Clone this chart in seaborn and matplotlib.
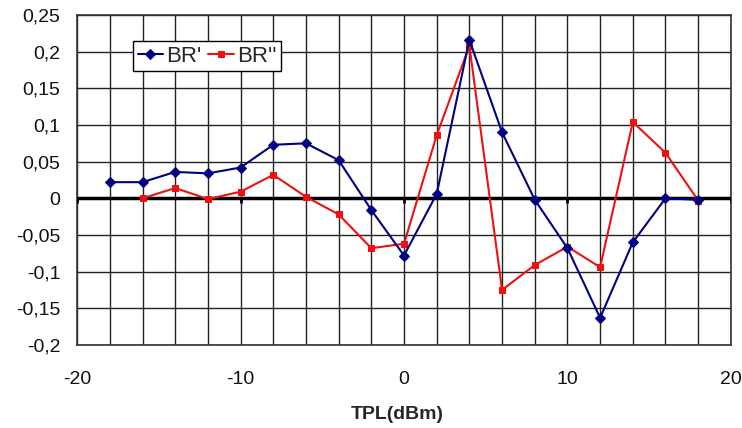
import matplotlib
matplotlib.use("Agg")
import matplotlib.pyplot as plt
import seaborn as sns
import pandas as pd
from matplotlib.ticker import FixedLocator, FuncFormatter

x_br1 = [-18, -16, -14, -12, -10, -8, -6, -4, -2, 0, 2, 4, 6, 8, 10, 12, 14, 16, 18]
br1 = [0.022, 0.022, 0.036, 0.034, 0.042, 0.073, 0.075, 0.052, -0.016, -0.078,
       0.006, 0.216, 0.090, -0.002, -0.068, -0.163, -0.060, 0.000, -0.002]
x_br2 = [-16, -14, -12, -10, -8, -6, -4, -2, 0, 2, 4, 6, 8, 10, 12, 14, 16, 18]
br2 = [0.000, 0.014, -0.001, 0.009, 0.032, 0.002, -0.022, -0.068, -0.062,
       0.086, 0.208, -0.125, -0.091, -0.066, -0.094, 0.104, 0.062, -0.003]
series_names = ["BR'", "BR''"]
x_ticks = [-20, -10, 0, 10, 20]
y_ticks = [-0.2, -0.15, -0.1, -0.05, 0, 0.05, 0.1, 0.15, 0.2, 0.25]
x_label = "TPL(dBm)"

sns.set_theme(style="white")
plt.rcParams['font.family'] = ['Liberation Sans', 'DejaVu Sans']

fig = plt.figure(figsize=(7.42, 4.28), dpi=100)
ax = fig.add_axes([0.104, 0.194, 0.881, 0.771])

df1 = pd.DataFrame({"x": x_br1, "y": br1})
df2 = pd.DataFrame({"x": x_br2, "y": br2})
sns.lineplot(data=df1, x="x", y="y", ax=ax, color="#000080", marker="D",
             markersize=5.5, markeredgecolor="#000080", linewidth=1.5,
             label=series_names[0], zorder=5)
sns.lineplot(data=df2, x="x", y="y", ax=ax, color="#ee1111", marker="s",
             markersize=5, markeredgecolor="#ee1111", linewidth=1.5,
             label=series_names[1], zorder=4)

ax.set_xlim(-20, 20)
ax.set_ylim(-0.2, 0.25)
ax.xaxis.set_major_locator(FixedLocator(x_ticks))
ax.xaxis.set_minor_locator(FixedLocator(list(range(-20, 21, 2))))
ax.yaxis.set_major_locator(FixedLocator(y_ticks))

def fmt(v, pos):
    if abs(v) < 1e-9:
        return "0"
    s = ("%.2f" % v).rstrip("0")
    return s.replace(".", ",")

ax.yaxis.set_major_formatter(FuncFormatter(fmt))
ax.xaxis.set_major_formatter(FuncFormatter(lambda v, p: "%d" % v))

ax.grid(True, which="both", axis="x", color="#222222", linewidth=1.0)
ax.grid(True, which="major", axis="y", color="#222222", linewidth=1.0)
ax.set_axisbelow(True)
ax.tick_params(axis="both", which="both", length=0, labelsize=14, colors="#111111")
ax.tick_params(axis="x", pad=19)
ax.tick_params(axis="y", pad=12)

ax.axhline(0, color="black", linewidth=2.5, zorder=3)
ax.vlines(x_ticks, -0.006, 0, color="black", linewidth=2.0, zorder=3)

for sp in ax.spines.values():
    sp.set_color("#333333")
    sp.set_linewidth(1.2)

ax.set_xlabel(x_label, fontsize=14, fontweight="bold", labelpad=10)
ax.xaxis.set_label_coords(0.49, -0.185)
ax.set_ylabel("")

leg = ax.legend(loc="upper left", bbox_to_anchor=(0.0855, 0.92), ncol=2,
                fontsize=16, frameon=True, fancybox=False, handlelength=1.15,
                handletextpad=0.15, columnspacing=0.3, borderpad=0.2,
                borderaxespad=0)
leg.get_frame().set_edgecolor("black")
leg.get_frame().set_linewidth(1.0)
leg.get_frame().set_facecolor("white")
leg.get_frame().set_alpha(1)

fig.savefig("out.png", dpi=100)
